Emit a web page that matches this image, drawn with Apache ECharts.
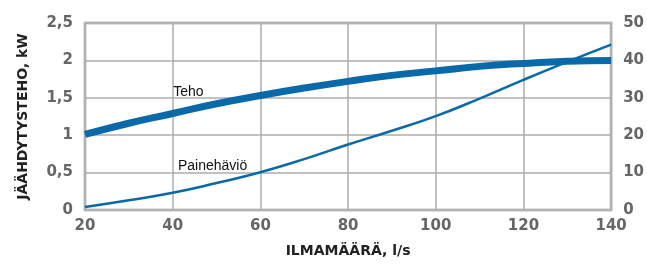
<!DOCTYPE html>
<html>
<head>
    <meta charset="utf-8">
    <title>Jäähdytysteho</title>
    <script src="https://cdn.jsdelivr.net/npm/echarts@6/dist/echarts.min.js"></script>
    <style>
        html, body { margin: 0; padding: 0; background: #fff; }
        #main { width: 647px; height: 264px; }
    </style>
</head>
<body>
<div id="main"></div>
<script type="text/javascript">
    // ilmamäärä l/s
    var airflow = [20, 30, 40, 50, 60, 70, 80, 90, 100, 110, 120, 130, 140];
    // jäähdytysteho kW (vasen akseli)
    var teho = [1.01, 1.16, 1.29, 1.42, 1.53, 1.63, 1.72, 1.80, 1.86, 1.92, 1.96, 1.99, 2.0];
    // painehäviö (oikea akseli)
    var paine = [0.8, 2.6, 4.6, 7.2, 10.1, 13.6, 17.5, 21.2, 25.1, 29.8, 34.8, 39.6, 44.2];

    var blue = '#0a69a8';
    var tickFont = {color: '#666', fontWeight: 'bold', fontSize: 15, fontFamily: 'DejaVu Sans'};

    function pairs(xs, ys) {
        return xs.map(function (x, i) { return [x, ys[i]]; });
    }

    var chart = echarts.init(document.getElementById('main'));
    var option = {
        animation: false,
        grid: {
            left: 85, right: 35, top: 23, bottom: 54,
            show: true, borderColor: '#c2c2c2', borderWidth: 3
        },
        xAxis: {
            type: 'value', min: 20, max: 140, interval: 20,
            name: 'ILMAMÄÄRÄ, l/s', nameLocation: 'middle', nameGap: 34,
            nameTextStyle: {color: '#222', fontWeight: 'bold', fontSize: 14, fontFamily: 'DejaVu Sans'},
            axisLine: {show: false}, axisTick: {show: false},
            axisLabel: Object.assign({margin: 9}, tickFont),
            splitLine: {lineStyle: {color: '#acacac', width: 1.5}}
        },
        yAxis: [{
            type: 'value', min: 0, max: 2.5, interval: 0.5,
            name: 'JÄÄHDYTYSTEHO, kW', nameLocation: 'middle', nameGap: 55,
            nameTextStyle: {color: '#222', fontWeight: 'bold', fontSize: 14, fontFamily: 'DejaVu Sans'},
            axisLine: {show: false}, axisTick: {show: false},
            axisLabel: Object.assign({margin: 12, formatter: function (v) { return String(v).replace('.', ','); }}, tickFont),
            splitLine: {lineStyle: {color: '#acacac', width: 1.5}}
        }, {
            type: 'value', min: 0, max: 50, interval: 10,
            axisLine: {show: false}, axisTick: {show: false},
            axisLabel: Object.assign({margin: 12}, tickFont),
            splitLine: {show: false}
        }],
        series: [{
            name: 'Teho', type: 'line', smooth: true, symbol: 'none',
            yAxisIndex: 0, data: pairs(airflow, teho),
            lineStyle: {color: blue, width: 7},
            markPoint: {
                symbol: 'circle', symbolSize: 0,
                label: {show: true, position: 'inside', color: '#111', fontSize: 14, fontFamily: 'Liberation Sans',
                    formatter: function (p) { return p.name; }},
                data: [{name: 'Teho', coord: [43.6, 1.57]}]
            }
        }, {
            name: 'Painehäviö', type: 'line', smooth: true, symbol: 'none',
            yAxisIndex: 1, data: pairs(airflow, paine),
            lineStyle: {color: blue, width: 2.5},
            markPoint: {
                symbol: 'circle', symbolSize: 0,
                label: {show: true, position: 'inside', color: '#111', fontSize: 14, fontFamily: 'Liberation Sans',
                    formatter: function (p) { return p.name; }},
                data: [{name: 'Painehäviö', coord: [49.1, 11.7]}]
            }
        }]
    };
    chart.setOption(option);
</script>
</body>
</html>
